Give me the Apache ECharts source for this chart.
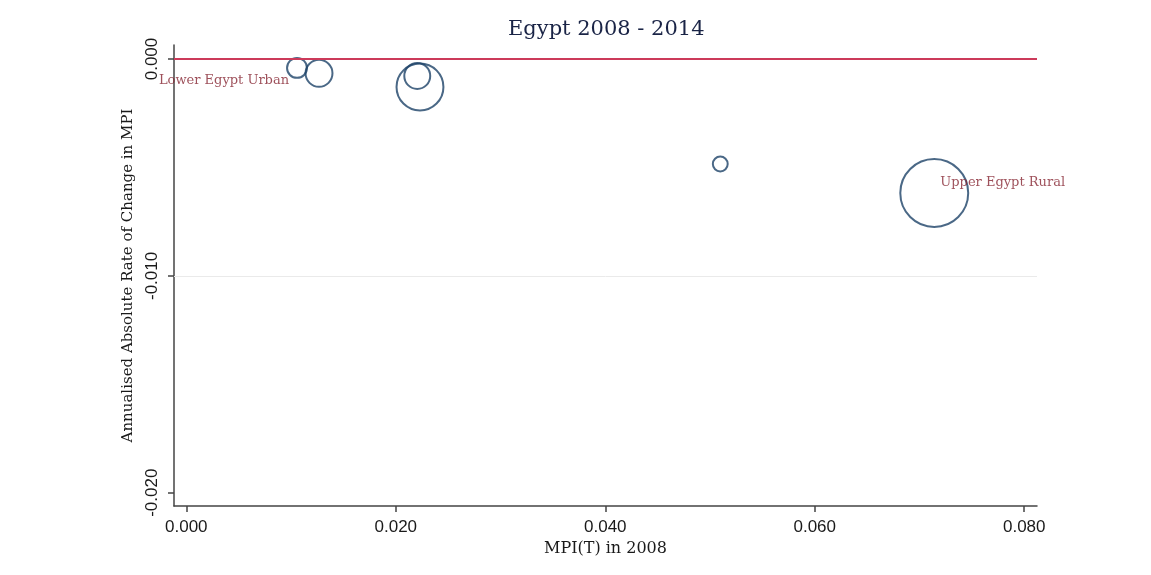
<!DOCTYPE html>
<html>
<head>
<meta charset="utf-8">
<script src="https://cdn.jsdelivr.net/npm/echarts/dist/echarts.min.js"></script>
<style>
  html, body { margin: 0; padding: 0; background: #fff; }
  #chart { width: 1151px; height: 575px; }
</style>
</head>
<body>
<div id="chart"></div>
<script>
// MPI(T) in 2008 per region
var mpi2008 = [0.01057, 0.01267, 0.02205, 0.02231, 0.05098, 0.07141];
// annualised absolute change in MPI
var absChange = [-0.00041, -0.00066, -0.00078, -0.00129, -0.00484, -0.00618];
// bubble weight (population share, %)
var weights = [4.5, 8.2, 7.6, 24.9, 2.5, 52.2];
// labels shown only for two regions
var regionLabels = ['Lower Egypt Urban', '', '', '', '', 'Upper Egypt Rural'];

var xTicks = [0, 0.02, 0.04, 0.06, 0.08];
var yTicks = [-0.02, -0.01, 0];

var serif = '"DejaVu Serif", "Liberation Serif", serif';
var sans = '"Liberation Sans", Arial, sans-serif';

var dom = document.getElementById('chart');
var myChart = echarts.init(dom, null, { renderer: 'canvas' });

var points = mpi2008.map(function (x, i) {
  var item = { value: [x, absChange[i], weights[i]] };
  if (i === 0) {
    item.label = {
      show: true, formatter: regionLabels[i],
      position: [3, 24], align: 'right', verticalAlign: 'middle'
    };
  } else if (i === 5) {
    item.label = {
      show: true, formatter: regionLabels[i],
      position: [41, 25], align: 'left', verticalAlign: 'middle'
    };
  }
  return item;
});

var option = {
  backgroundColor: '#fff',
  title: {
    text: 'Egypt 2008 - 2014',
    left: 503,
    top: 14,
    textStyle: { fontFamily: serif, fontSize: 21, fontWeight: 'normal', color: '#1a2446' }
  },
  grid: { left: 174, right: 114, top: 45, bottom: 69 },
  xAxis: {
    type: 'value',
    min: -0.001175,
    max: 0.08122,
    name: 'MPI(T) in 2008',
    nameLocation: 'middle',
    nameGap: 34,
    nameTextStyle: { fontFamily: serif, fontSize: 16, color: '#1a1a1a' },
    axisLine: { show: true, onZero: false, lineStyle: { color: '#444', width: 1.5 } },
    axisTick: { show: true, customValues: xTicks, length: 6, lineStyle: { color: '#444', width: 1.5 } },
    axisLabel: {
      customValues: xTicks, margin: 13,
      fontFamily: sans, fontSize: 17, color: '#1a1a1a',
      formatter: function (v) { return v.toFixed(3); }
    },
    splitLine: { show: false }
  },
  yAxis: {
    type: 'value',
    min: -0.02061,
    max: 0.000646,
    name: 'Annualised Absolute Rate of Change in MPI',
    nameLocation: 'middle',
    nameGap: 36,
    nameTextStyle: { fontFamily: serif, fontSize: 15, color: '#1a1a1a' },
    axisLine: { show: true, onZero: false, lineStyle: { color: '#444', width: 1.5 } },
    axisTick: { show: true, customValues: yTicks, length: 6, lineStyle: { color: '#444', width: 1.5 } },
    axisLabel: {
      customValues: yTicks, margin: 13, rotate: 90,
      fontFamily: sans, fontSize: 17, color: '#1a1a1a',
      formatter: function (v) { return v.toFixed(3); }
    },
    splitLine: { show: false }
  },
  series: [
    {
      type: 'scatter',
      data: points,
      symbol: 'circle',
      symbolSize: function (val) { return Math.sqrt(val[2]) * 9.4; },
      itemStyle: { color: 'rgba(0,0,0,0)', borderColor: '#1d4268', borderWidth: 2 },
      label: { show: false, fontFamily: serif, fontSize: 13, color: '#862632' },
      emphasis: { disabled: true },
      markLine: {
        silent: true,
        symbol: 'none',
        label: { show: false },
        data: [
          { yAxis: -0.01, lineStyle: { color: '#eaeaea', width: 1, type: 'solid' } },
          { yAxis: 0, lineStyle: { color: '#cc3a5a', width: 2, type: 'solid' } }
        ]
      },
      z: 3
    }
  ]
};

myChart.setOption(option);
window.addEventListener('resize', myChart.resize);
</script>
</body>
</html>
